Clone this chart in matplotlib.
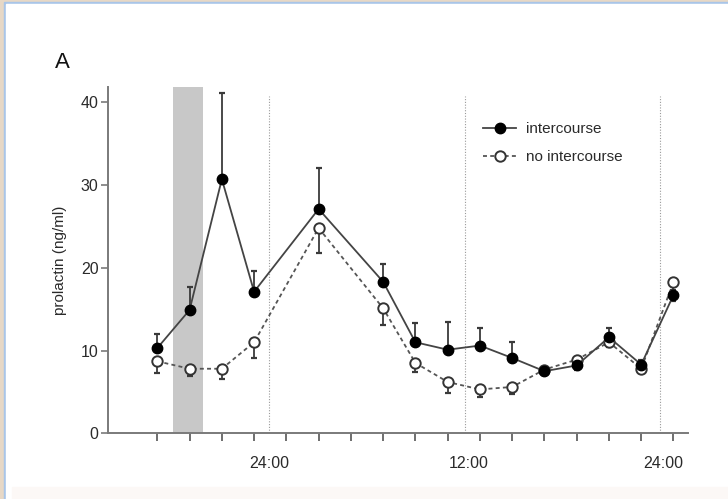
import matplotlib
matplotlib.use("Agg")
import matplotlib.pyplot as plt
from matplotlib.patches import Rectangle
import numpy as np

# positions of sampling times (tick index)
x_int = [0, 1, 2, 3, 5, 7, 8, 9, 10, 11, 12, 13, 14, 15, 16]
y_int = [10.3, 14.9, 30.7, 17.1, 27.1, 18.3, 11.0, 10.1, 10.6, 9.1, 7.5, 8.2, 11.6, 8.3, 16.7]
e_int = [1.7, 2.8, 10.4, 2.5, 4.9, 2.1, 2.3, 3.3, 2.1, 1.9, 0.5, 0.6, 1.1, 0.5, 0.6]

x_no = [0, 1, 2, 3, 5, 7, 8, 9, 10, 11, 12, 13, 14, 15, 16]
y_no = [8.7, 7.8, 7.8, 11.0, 24.8, 15.1, 8.5, 6.2, 5.3, 5.6, 7.7, 8.9, 11.0, 7.8, 18.3]
e_no = [1.4, 0.9, 1.2, 1.9, 3.0, 2.0, 1.1, 1.3, 0.9, 0.8, 0.6, 1.3, 0.6, 0.4, 2.3]

tick_positions = list(range(17))
time_labels = ["24:00", "12:00", "24:00"]
time_label_pos = [3.46, 9.66, 15.68]
divider_pos = [3.46, 9.54, 15.57]
shade = (0.48, 1.43)
yticks = [0, 10, 20, 30, 40]

plt.rcParams['font.family'] = ['Liberation Sans', 'DejaVu Sans']

fig = plt.figure(figsize=(7.28, 4.99), dpi=100)

# frame decoration
fig.patches.append(Rectangle((0, 0), 1, 1, transform=fig.transFigure, color='#e7d8c6', zorder=-10))
fig.patches.append(Rectangle((4/728, 0), 1, 1 - 2/499, transform=fig.transFigure, color='#a9c5e8', zorder=-9))
fig.patches.append(Rectangle((6/728, 0), 1, 1 - 4/499, transform=fig.transFigure, color='white', zorder=-8))
fig.patches.append(Rectangle((12/728, 0), 1, 12/499, transform=fig.transFigure, color='#fcf8f6', zorder=-7))

ax = fig.add_axes([108.3/728, 1 - 433.3/499, (688 - 108.3)/728, (433.3 - 87.3)/499])
ax.patch.set_alpha(0)

ax.set_xlim(-1.52, 16.45)
ax.set_ylim(0, 41.8)

ax.axvspan(shade[0], shade[1], ymin=0, ymax=1, color='#c8c8c8', lw=0, zorder=1)
for d in divider_pos:
    ax.plot([d, d], [0, 40.8], ls=(0, (1, 1.5)), color='#9a9a9a', lw=0.8, zorder=1)

gray = '#3a3a3a'
# error bars: intercourse upward, no intercourse downward
ax.errorbar(x_int, y_int, yerr=[np.zeros(len(e_int)), e_int], fmt='none', ecolor=gray,
            elinewidth=1.3, capsize=2.5, capthick=1.6, zorder=3)
ax.errorbar(x_no, y_no, yerr=[e_no, np.zeros(len(e_no))], fmt='none', ecolor=gray,
            elinewidth=1.3, capsize=2.5, capthick=1.6, zorder=3)

ax.plot(x_int, y_int, '-', color='#444444', lw=1.3, marker='o', ms=7.5,
        mfc='black', mec='black', label='intercourse', zorder=5)
ax.plot(x_no, y_no, ls=(0, (2.2, 1.8)), color='#555555', lw=1.3, marker='o', ms=7.5,
        mfc='white', mec='#333333', mew=1.4, label='no intercourse', zorder=4)

for s in ['top', 'right']:
    ax.spines[s].set_visible(False)
for s in ['left', 'bottom']:
    ax.spines[s].set_color('#7a7a7a')
    ax.spines[s].set_linewidth(1.4)

ax.set_yticks(yticks)
ax.tick_params(axis='y', length=5, width=1.2, color='#7a7a7a', labelsize=11.5, labelcolor='#2a2a2a', pad=2)

ax.set_xticks(tick_positions, minor=True)
ax.tick_params(axis='x', which='minor', length=6, width=1.2, color='#555555')
ax.set_xticks(time_label_pos, time_labels)
ax.tick_params(axis='x', which='major', length=0, labelsize=11.5, labelcolor='#2a2a2a', pad=16)

ax.set_ylabel('prolactin (ng/ml)', fontsize=11, color='#2a2a2a', labelpad=10)

leg = ax.legend(loc='upper left', bbox_to_anchor=(0.646, 0.899), bbox_transform=ax.transAxes,
                frameon=False, fontsize=11, borderaxespad=0, borderpad=0,
                handlelength=2.2, handletextpad=0.65, labelspacing=0.9, labelcolor='#2a2a2a')

fig.text(55/728, 1 - 62/499, 'A', fontsize=16, va='center', ha='left', color='#111111')

fig.savefig('out.png', dpi=100)
